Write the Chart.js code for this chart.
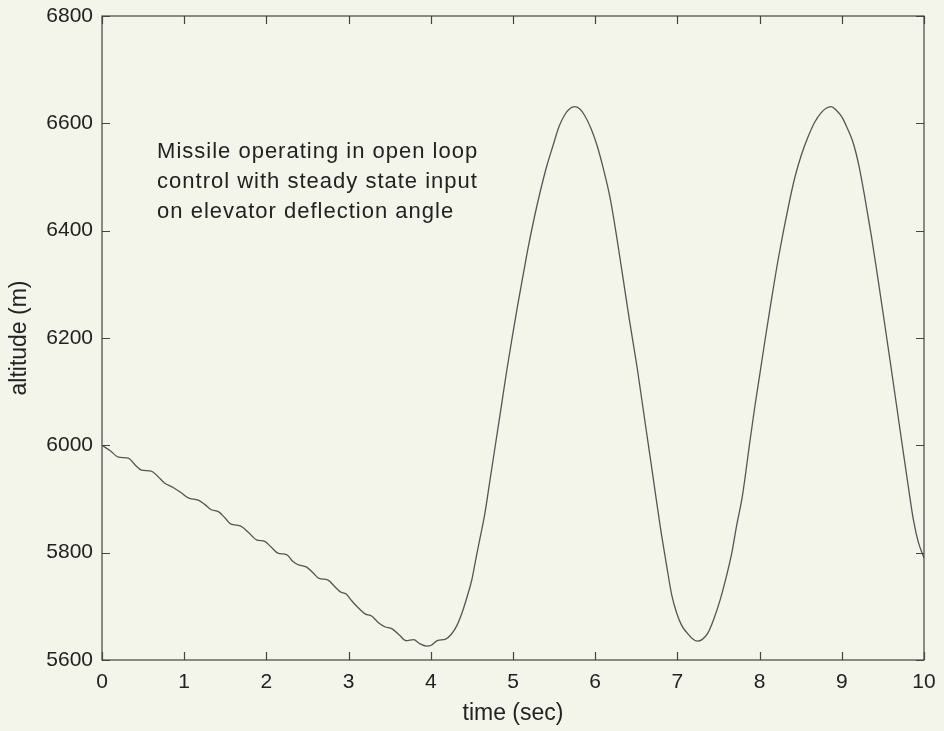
<!DOCTYPE html>
<html>
<head>
<meta charset="utf-8">
<script src="https://cdn.jsdelivr.net/npm/chart.js@4.4.1/dist/chart.umd.min.js"></script>
<style>
html,body{margin:0;padding:0;background:#f3f4ea;}
#wrap{width:944px;height:731px;position:relative;}
</style>
</head>
<body>
<div id="wrap"><canvas id="c" width="944" height="731"></canvas></div>
<script>
// time (s)
const timeSec = [
0.00,0.10,0.20,0.32,0.40,0.48,0.60,0.68,0.76,0.86,0.96,1.05,1.17,1.25,1.33,1.42,1.50,1.57,1.68,1.78,
1.88,1.98,2.06,2.14,2.25,2.32,2.38,2.49,2.57,2.64,2.75,2.83,2.90,2.97,3.04,3.12,3.20,3.28,3.36,3.44,
3.53,3.62,3.70,3.79,3.87,3.95,4.00,4.08,4.18,4.25,4.32,4.38,4.44,4.50,4.55,4.60,4.66,4.72,4.78,4.86,
4.93,5.00,5.05,5.12,5.18,5.26,5.33,5.41,5.49,5.56,5.63,5.69,5.75,5.81,5.87,5.95,6.02,6.10,6.18,6.26,
6.34,6.42,6.51,6.60,6.70,6.79,6.87,6.93,6.99,7.05,7.12,7.18,7.24,7.30,7.37,7.44,7.52,7.59,7.66,7.72,
7.79,7.88,7.94,8.00,8.07,8.13,8.23,8.35,8.43,8.51,8.59,8.67,8.75,8.81,8.87,8.93,9.00,9.07,9.14,9.21,
9.28,9.36,9.44,9.52,9.59,9.67,9.75,9.81,9.87,9.93,10.00
];
// altitude (m)
const altitudeM = [
6000,5990,5978,5976,5964,5954,5952,5942,5930,5922,5912,5902,5898,5890,5880,5876,5864,5853,5850,5838,
5824,5821,5810,5799,5796,5784,5778,5773,5762,5752,5749,5737,5727,5723,5710,5697,5686,5682,5670,5662,
5658,5646,5636,5638,5630,5626,5627,5636,5639,5648,5665,5688,5717,5750,5790,5828,5875,5935,5995,6075,
6145,6210,6255,6315,6365,6425,6472,6520,6560,6594,6616,6627,6631,6627,6615,6590,6560,6515,6462,6390,
6310,6230,6145,6050,5945,5850,5775,5722,5688,5665,5650,5640,5635,5638,5650,5675,5712,5752,5798,5850,
5905,6005,6070,6130,6200,6258,6350,6445,6500,6542,6575,6602,6620,6628,6631,6625,6612,6590,6563,6520,
6462,6390,6310,6228,6155,6070,5985,5922,5862,5820,5790
];
const xTicks = [0,1,2,3,4,5,6,7,8,9,10];
const yTicks = [5600,5800,6000,6200,6400,6600,6800];
const noteLines = [
  "Missile operating in open loop",
  "control with steady state input",
  "on elevator deflection angle"
];
const noteAnchor = {x: 0.67, y: 6535};

const points = timeSec.map((t,i)=>({x:t, y:altitudeM[i]}));
const FONT = "'Liberation Sans', Arial, Helvetica, sans-serif";
const TXT = '#222';
const AX = '#444';

const boxPlugin = {
  id:'box',
  beforeDraw(chart){
    const c = chart.ctx;
    c.save(); c.fillStyle='#f3f4ea'; c.fillRect(0,0,chart.width,chart.height); c.restore();
  },
  afterDraw(chart){
    const c = chart.ctx, a = chart.chartArea;
    const xs = chart.scales.x, ys = chart.scales.y;
    c.save();
    c.strokeStyle = AX; c.lineWidth = 1.2;
    c.strokeRect(a.left, a.top, a.right-a.left, a.bottom-a.top);
    const L = 8;
    c.beginPath();
    xTicks.forEach(v=>{
      const px = Math.round(xs.getPixelForValue(v))+0.5;
      c.moveTo(px, a.bottom); c.lineTo(px, a.bottom-L);
      c.moveTo(px, a.top); c.lineTo(px, a.top+L);
    });
    yTicks.forEach(v=>{
      const py = Math.round(ys.getPixelForValue(v))+0.5;
      c.moveTo(a.left, py); c.lineTo(a.left+L, py);
      c.moveTo(a.right, py); c.lineTo(a.right-L, py);
    });
    c.stroke();
    // annotation
    c.fillStyle = TXT;
    c.font = "22px " + FONT;
    try { c.letterSpacing = '1px'; } catch(e){}
    c.textBaseline = 'alphabetic';
    c.textAlign = 'left';
    const ax = xs.getPixelForValue(noteAnchor.x), ay = ys.getPixelForValue(noteAnchor.y);
    noteLines.forEach((s,i)=> c.fillText(s, ax, ay + i*30));
    c.restore();
  }
};

new Chart(document.getElementById('c'), {
  type:'line',
  data:{datasets:[{
    data: points,
    borderColor:'#555',
    borderWidth:1.3,
    pointRadius:0,
    cubicInterpolationMode:'monotone',
    fill:false
  }]},
  options:{
    responsive:false,
    animation:false,
    events:[],
    layout:{padding:{top:16,right:20,left:0,bottom:0}},
    plugins:{legend:{display:false},tooltip:{enabled:false},title:{display:false}},
    scales:{
      x:{
        type:'linear', min:0, max:10,
        afterFit(s){ s.height = 71; s.paddingLeft = 0; s.paddingRight = 0; },
        afterBuildTicks(s){ s.ticks = xTicks.map(v=>({value:v})); },
        grid:{drawOnChartArea:false, drawTicks:false},
        border:{display:false},
        ticks:{color:TXT, font:{family:FONT, size:21}, padding:10, maxRotation:0, callback:v=>String(v)},
        title:{display:true, text:'time (sec)', color:TXT, font:{family:FONT, size:23}, padding:{top:0,bottom:4}}
      },
      y:{
        type:'linear', min:5600, max:6800,
        afterFit(s){ s.width = 102; s.paddingTop = 0; s.paddingBottom = 0; },
        afterBuildTicks(s){ s.ticks = yTicks.map(v=>({value:v})); },
        grid:{drawOnChartArea:false, drawTicks:false},
        border:{display:false},
        ticks:{color:TXT, font:{family:FONT, size:21}, padding:9, callback:v=>String(v)},
        title:{display:true, text:'altitude (m)', color:TXT, font:{family:FONT, size:23}, padding:{top:6,bottom:0}}
      }
    }
  },
  plugins:[boxPlugin]
});
</script>
</body>
</html>
